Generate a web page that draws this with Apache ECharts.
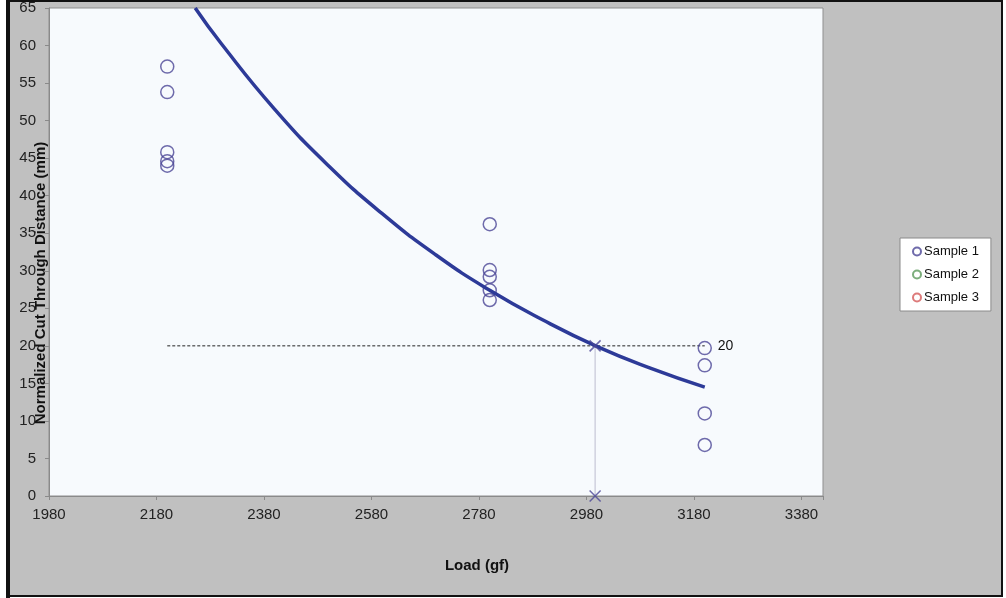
<!DOCTYPE html>
<html>
<head>
<meta charset="utf-8">
<script src="https://cdn.jsdelivr.net/npm/echarts@6/dist/echarts.min.js"></script>
<style>
  html, body { margin: 0; padding: 0; background: #fff; }
  #chart { width: 1006px; height: 598px; }
</style>
</head>
<body>
<div id="chart"></div>
<script>
// measured points, Sample 1 (Sample 2 / 3 have nothing visible)
var sample1Load = [2200, 2200, 2200, 2200, 2200, 2800, 2800, 2800, 2800, 2800, 3200, 3200, 3200, 3200];
var sample1Cut = [57.2, 53.8, 45.8, 44.6, 44.0, 36.2, 30.1, 29.2, 27.4, 26.1, 19.7, 17.4, 11.0, 6.8];
var sample2Load = [];
var sample2Cut = [];
var sample3Load = [];
var sample3Cut = [];

// trend curve
var trendLoad = [2252, 2300, 2400, 2500, 2600, 2700, 2800, 2900, 3000, 3100, 3200];
var trendCut = [65, 60.3, 51.5, 44.0, 37.6, 32.1, 27.4, 23.4, 19.9, 17.0, 14.5];

// 20 mm target and where the curve hits it
var targetCut = 20;
var targetLoad = 2996;
var targetLineLoad = [2200, 3200];

var xMin = 1980, xMax = 3420, xStep = 200;
var yMin = 0, yMax = 65, yStep = 5;

var seriesNames = ['Sample 1', 'Sample 2', 'Sample 3'];
var seriesColors = ['#4b4696', '#5b9a5b', '#d45a5a'];

function zip(xs, ys) {
    return xs.map(function (x, i) { return [x, ys[i]]; });
}

var font = 'Arial, "Liberation Sans", sans-serif';
var chart = echarts.init(document.getElementById('chart'));

var sampleData = [zip(sample1Load, sample1Cut), zip(sample2Load, sample2Cut), zip(sample3Load, sample3Cut)];
var sampleSeries = seriesNames.map(function (name, i) {
    return {
        type: 'scatter',
        name: name,
        symbol: 'circle',
        symbolSize: 13,
        itemStyle: {
            color: 'rgba(0,0,0,0)',
            borderColor: seriesColors[i],
            borderWidth: 1.5
        },
        z: 4,
        data: sampleData[i]
    };
});

chart.setOption({
    backgroundColor: '#fff',
    animation: false,
    textStyle: { fontFamily: font },
    graphic: [{
        type: 'rect',
        z: -100,
        shape: { x: 8, y: 1, width: 994, height: 595 },
        style: { fill: '#c0c0c0', stroke: '#111', lineWidth: 2 }
    }, {
        type: 'rect',
        z: -99,
        shape: { x: 6, y: 0, width: 4, height: 598 },
        style: { fill: '#111' }
    }],
    grid: {
        left: 49,
        top: 8,
        right: 183,
        bottom: 102,
        outerBoundsMode: 'none',
        containLabel: false,
        show: true,
        backgroundColor: '#f7fafd',
        borderColor: '#8f8f8f',
        borderWidth: 1
    },
    legend: {
        data: seriesNames,
        orient: 'vertical',
        left: 900,
        top: 238,
        icon: 'circle',
        itemWidth: 8,
        itemHeight: 8,
        itemGap: 10,
        padding: [7, 12, 7, 12],
        backgroundColor: '#fff',
        borderColor: '#8a8a8a',
        borderWidth: 1,
        textStyle: { fontFamily: font, fontSize: 13, color: '#111', padding: [0, 0, 0, -2] }
    },
    xAxis: {
        type: 'value',
        min: xMin,
        max: xMax,
        interval: xStep,
        name: 'Load (gf)',
        nameLocation: 'middle',
        nameGap: 62,
        nameMoveOverlap: false,
        nameTextStyle: { fontFamily: font, fontSize: 15, fontWeight: 'bold', color: '#111', padding: [0, 0, 0, 82] },
        splitLine: { show: false },
        axisLine: { onZero: false, lineStyle: { color: '#8a8a8a', width: 1 } },
        axisTick: { show: true, length: 4, lineStyle: { color: '#8a8a8a' } },
        axisLabel: {
            margin: 11,
            fontFamily: font,
            fontSize: 15,
            color: '#222',
            formatter: function (v) { return (v - xMin) % xStep === 0 ? String(v) : ''; }
        }
    },
    yAxis: {
        type: 'value',
        min: yMin,
        max: yMax,
        interval: yStep,
        name: 'Normalized Cut Through Distance (mm)',
        nameLocation: 'middle',
        nameRotate: 90,
        nameGap: 1,
        nameMoveOverlap: false,
        nameTextStyle: { fontFamily: font, fontSize: 15, fontWeight: 'bold', color: '#111', padding: [0, 62, 0, 0] },
        splitLine: { show: false },
        axisLine: { show: true, lineStyle: { color: '#8a8a8a', width: 1 } },
        axisTick: { show: true, length: 4, lineStyle: { color: '#8a8a8a' } },
        axisLabel: { margin: 13, fontFamily: font, fontSize: 15, color: '#222' }
    },
    series: sampleSeries.concat([{
        type: 'line',
        name: 'drop',
        data: [[targetLoad, targetCut], [targetLoad, yMin]],
        symbol: 'none',
        lineStyle: { color: '#bdbccf', width: 1 },
        z: 2
    }, {
        type: 'line',
        name: 'target',
        data: targetLineLoad.map(function (x) { return [x, targetCut]; }),
        symbol: 'none',
        lineStyle: { color: '#222', width: 1, type: [3, 2] },
        endLabel: {
            show: true,
            distance: 13,
            formatter: String(targetCut),
            fontFamily: font,
            fontSize: 14,
            color: '#111'
        },
        z: 3
    }, {
        type: 'line',
        name: 'trend',
        data: zip(trendLoad, trendCut),
        smooth: true,
        symbol: 'none',
        lineStyle: { color: '#2d3a98', width: 3.5 },
        z: 5
    }, {
        type: 'scatter',
        name: 'cross',
        data: [[targetLoad, targetCut], [targetLoad, yMin]],
        symbol: 'path://M0,0L10,10M10,0L0,10',
        symbolSize: 11,
        clip: false,
        itemStyle: { color: 'none', borderColor: '#4b4696', borderWidth: 1.5 },
        z: 6
    }])
});
</script>
</body>
</html>
